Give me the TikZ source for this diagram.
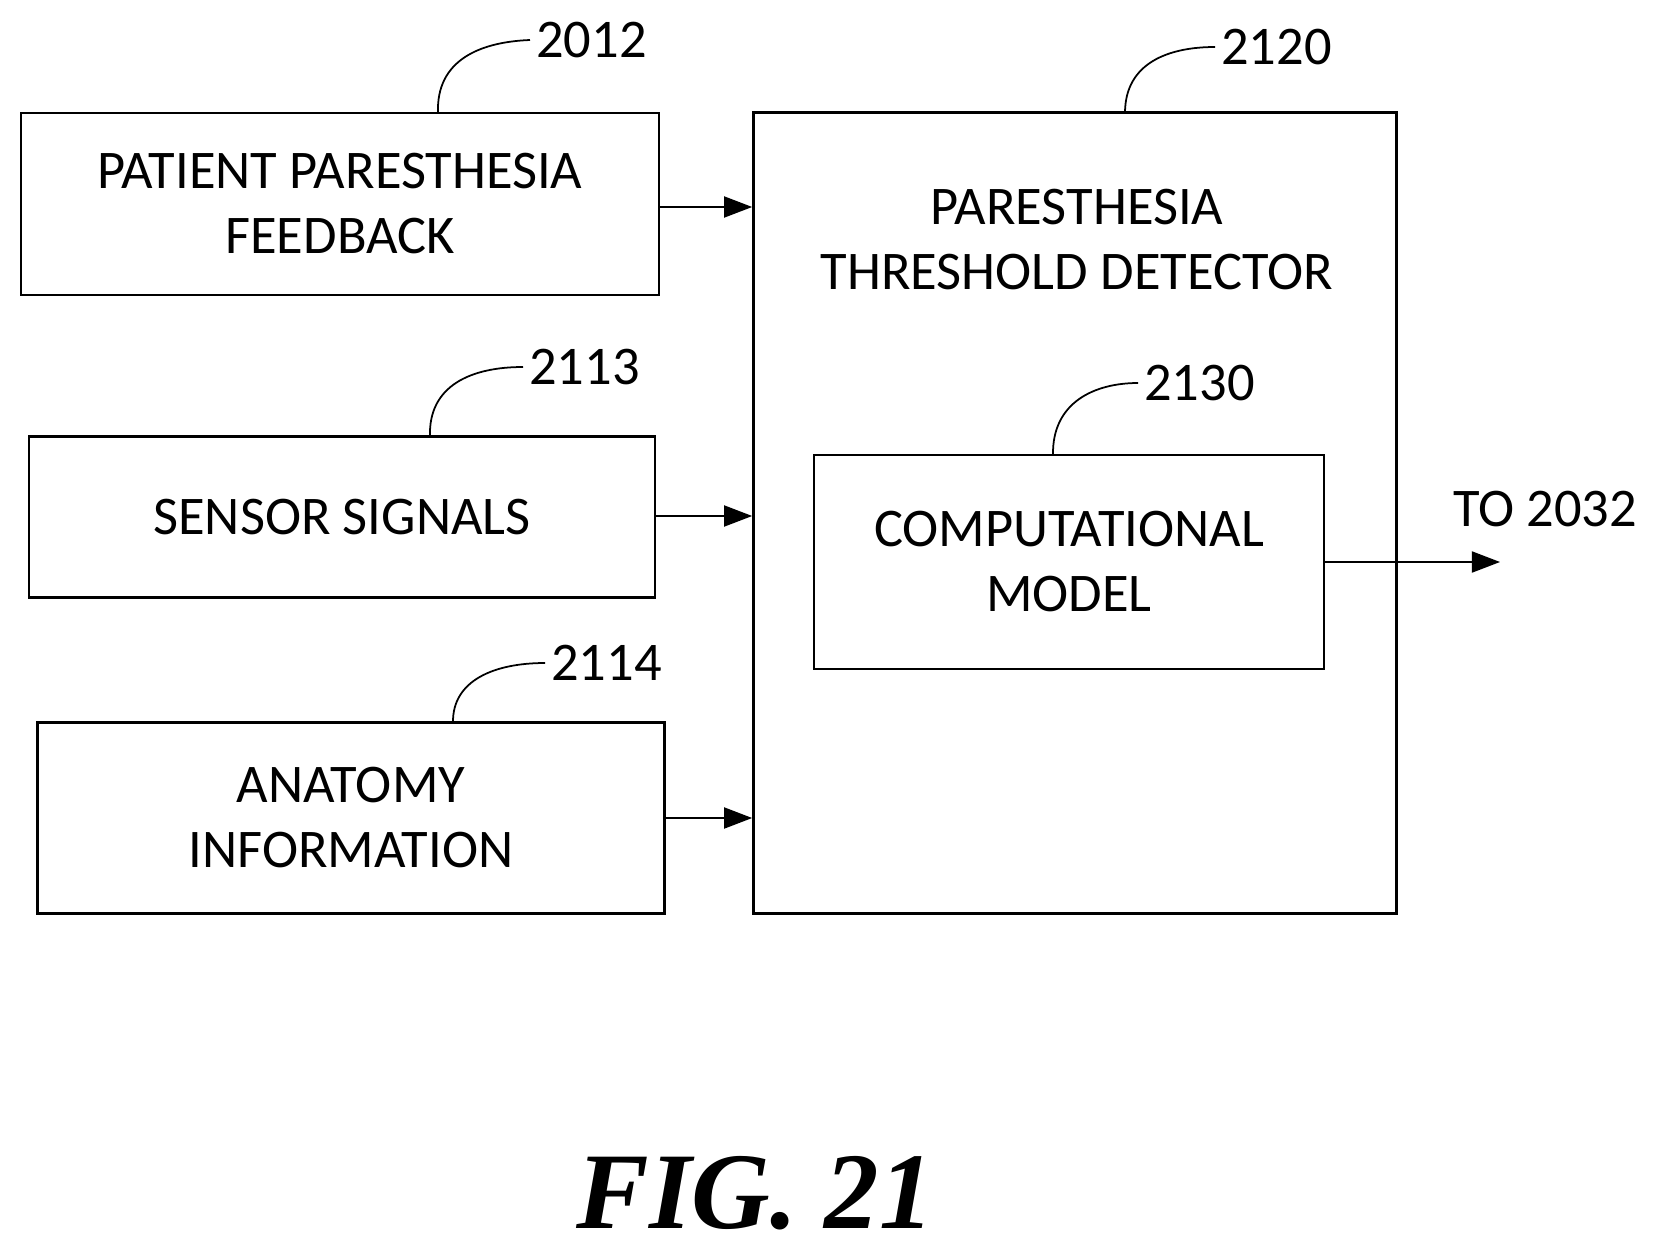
\documentclass[tikz,border=0pt]{standalone}
\usepackage{fontspec}
\setmainfont{Carlito}
\usetikzlibrary{arrows.meta}
\begin{document}
\begin{tikzpicture}[x=0.02cm,y=-0.02cm,
  box/.style={draw,line width=1.6pt,inner sep=0pt,align=center,font=\fontsize{31}{37}\selectfont},
  ref/.style={font=\fontsize{31}{37}\selectfont,anchor=west},
  lead/.style={line width=1pt},
  feed/.style={line width=1pt,-{Triangle[length=16pt,width=12pt]}}]
% Frame
\useasboundingbox (0,0) rectangle (1659,1253);

% Input boxes
\node[box,minimum width=638\pgflinewidth,minimum width=12.76cm,minimum height=3.64cm] (fb) at (340,204) {PATIENT PARESTHESIA\\FEEDBACK};
\node[box,minimum width=12.52cm,minimum height=3.22cm] (ss) at (342,517) {SENSOR SIGNALS};
\node[box,minimum width=12.54cm,minimum height=3.82cm] (ai) at (351,818) {ANATOMY\\INFORMATION};

% Detector and model
\node[box,minimum width=12.86cm,minimum height=16.02cm] (det) at (1075,513) {};
\node[font=\fontsize{31}{37}\selectfont,align=center] (dettxt) at (1077,240) {PARESTHESIA\\THRESHOLD DETECTOR};
\node[box,minimum width=10.2cm,minimum height=4.28cm] (cm) at (1069,562) {COMPUTATIONAL\\MODEL};

% Connectors
\coordinate (out) at (1500,562);
\draw[feed] (fb.east |- 0,207) -- (det.west |- 0,207);
\draw[feed] (ss.east |- 0,516) -- (det.west |- 0,516);
\draw[feed] (ai.east |- 0,818) -- (det.west |- 0,818);
\draw[feed] (cm.east) -- (out);
\node[ref,anchor=center] (to) at (1545,509) {TO 2032};

% Reference numerals
\node[ref] (n2012) at (530,40) {2012};
\node[ref] (n2120) at (1215,47) {2120};
\node[ref] (n2113) at (523,367) {2113};
\node[ref] (n2130) at (1138,383) {2130};
\node[ref] (n2114) at (545,663) {2114};
\draw[lead] (438,113) .. controls (436,60) and (480,42) .. (n2012.west);
\draw[lead] (1125,113) .. controls (1125,62) and (1170,47) .. (n2120.west);
\draw[lead] (430,437) .. controls (428,385) and (472,367) .. (n2113.west);
\draw[lead] (1053,455) .. controls (1052,402) and (1095,383) .. (n2130.west);
\draw[lead] (453,723) .. controls (452,680) and (495,663) .. (n2114.west);

% Caption
\node[font=\fontsize{62}{70}\selectfont\bfseries\itshape\fontspec{Liberation Serif}] (fig) at (755,1193) {\bfseries\itshape FIG. 21};
\end{tikzpicture}
\end{document}
